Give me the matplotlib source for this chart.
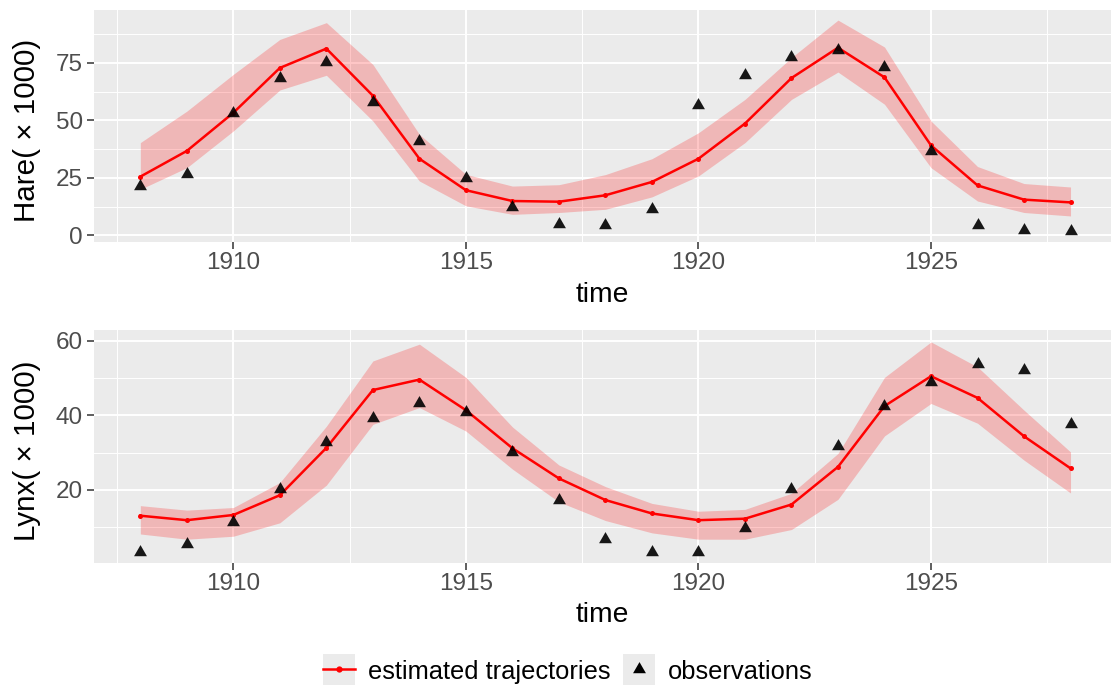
import numpy as np
import matplotlib
matplotlib.use("Agg")
import matplotlib.pyplot as plt
from matplotlib.lines import Line2D
from matplotlib.patches import Rectangle
from matplotlib.legend_handler import HandlerLine2D

plt.rcParams['font.family'] = ['Liberation Sans', 'DejaVu Sans']

# ---------------- data ----------------
years = list(range(1908, 1929))

hare_est = [25.5, 36.7, 53.3, 72.8, 81.2, 60.7, 33.3, 19.6, 14.9, 14.6, 17.4,
            23.2, 33.3, 48.6, 68.4, 81.6, 68.7, 39.1, 21.7, 15.5, 14.3]
hare_hi = [40.3, 54.0, 70.0, 85.2, 92.5, 74.3, 43.9, 26.5, 21.4, 22.0, 26.4,
           33.3, 44.6, 59.1, 77.3, 93.6, 81.9, 49.7, 29.9, 22.5, 21.0]
hare_lo = [20.0, 29.4, 45.4, 63.2, 69.6, 49.7, 23.6, 12.8, 9.1, 9.9, 11.3,
           16.7, 25.8, 40.3, 59.1, 71.0, 57.0, 29.4, 14.9, 9.9, 8.4]
hare_obs = [21.3, 26.5, 53.0, 68.6, 75.5, 58.0, 41.0, 24.8, 12.5, 5.1, 4.4,
            11.3, 56.7, 69.7, 77.7, 80.5, 73.4, 36.7, 4.5, 2.5, 1.9]

lynx_est = [13.1, 11.9, 13.3, 18.6, 31.3, 46.8, 49.6, 41.4, 31.2, 23.1, 17.3,
            13.7, 11.9, 12.3, 16.1, 26.2, 42.5, 50.5, 44.7, 34.4, 25.8]
lynx_hi = [15.8, 14.6, 15.3, 22.0, 37.1, 54.6, 59.1, 50.2, 36.9, 26.7, 20.9,
           16.4, 14.3, 14.8, 19.1, 29.8, 50.2, 59.7, 53.0, 41.4, 30.2]
lynx_lo = [8.2, 6.8, 7.6, 11.2, 21.3, 37.6, 42.1, 35.8, 25.6, 16.8, 11.8,
           8.5, 6.8, 6.8, 9.4, 17.5, 34.5, 43.2, 37.9, 28.0, 19.2]
lynx_obs = [3.5, 5.6, 11.5, 20.3, 32.8, 39.4, 43.4, 40.8, 30.3, 17.2, 6.9,
            3.3, 3.5, 9.9, 20.2, 31.9, 42.4, 48.9, 53.9, 52.2, 37.6]

x_major = [1910, 1915, 1920, 1925]
x_minor = [1907.5, 1912.5, 1917.5, 1922.5, 1927.5]
hare_major = [0, 25, 50, 75]
hare_minor = [12.5, 37.5, 62.5, 87.5]
lynx_major = [20, 40, 60]
lynx_minor = [10, 30, 50]

labels_legend = ['estimated trajectories', 'observations']

# ---------------- figure ----------------
W, H = 1111, 685
fig = plt.figure(figsize=(W / 100, H / 100), dpi=100)

left = 94.3 / W
width = (W - 94.3) / W
ax1 = fig.add_axes([left, (H - 241.7) / H, width, 231.7 / H])
ax2 = fig.add_axes([left, (H - 562.7) / H, width, 232.7 / H])

# equilateral triangle marker centred on its centroid (like R pch 17)
tri = [(0, 0.577), (-0.5, -0.289), (0.5, -0.289), (0, 0.577)]

GRAY_BG = '#EBEBEB'


def style(ax, ymaj, ymin, ylim, ylabel, ylab_y):
    ax.set_facecolor(GRAY_BG)
    for s in ax.spines.values():
        s.set_visible(False)
    ax.set_xlim(1907.01, 1928.87)
    ax.set_ylim(*ylim)
    ax.set_xticks(x_major)
    ax.set_xticks(x_minor, minor=True)
    ax.set_yticks(ymaj)
    ax.set_yticks(ymin, minor=True)
    ax.set_xticklabels([str(v) for v in x_major])
    ax.set_yticklabels([str(v) for v in ymaj])
    ax.grid(which='major', color='white', lw=1.4)
    ax.grid(which='minor', color='white', lw=0.7)
    ax.set_axisbelow(True)
    ax.tick_params(which='major', length=4.8, width=1.1, color='#333333',
                   labelcolor='#4D4D4D', labelsize=17.5)
    ax.tick_params(axis='y', which='major', pad=3.3)
    ax.tick_params(axis='x', which='major', pad=2.5)
    ax.tick_params(which='minor', length=0)
    ax.set_xlabel('time', fontsize=20.3, color='black', va='baseline')
    ax.set_ylabel(ylabel, fontsize=21.3, color='black', va='baseline')
    ax.yaxis.set_label_coords((35.5 - 94.3) / (W - 94.3), ylab_y)


def draw(ax, est, lo, hi, obs):
    ax.fill_between(years, lo, hi, color='red', alpha=0.22, lw=0, zorder=2)
    ax.plot(years, est, color='red', lw=1.8, marker='o', ms=3.6,
            mew=0, zorder=3)
    ax.plot(years, obs, ls='none', marker=tri, ms=10.7, mew=0,
            color='black', alpha=0.9, zorder=4)


draw(ax1, hare_est, hare_lo, hare_hi, hare_obs)
draw(ax2, lynx_est, lynx_lo, lynx_hi, lynx_obs)
style(ax1, hare_major, hare_minor, (-2.8, 98.0), 'Hare( \u00d7 1000)', 0.48)
style(ax2, lynx_major, lynx_minor, (0.5, 62.9), 'Lynx( \u00d7 1000)', 0.483)
ax1.xaxis.set_label_coords(0.5, -(301.7 - 241.7) / 231.7)
ax2.xaxis.set_label_coords(0.5, -(622.3 - 562.7) / 232.7)


# ---------------- legend with grey key boxes ----------------
class BoxedHandler(HandlerLine2D):
    def create_artists(self, legend, orig_handle, xdescent, ydescent,
                       width, height, fontsize, trans):
        arts = super().create_artists(legend, orig_handle, xdescent, ydescent,
                                      width, height, fontsize, trans)
        side = width
        rect = Rectangle((-xdescent, -ydescent + height / 2 - side / 2),
                         side, side, facecolor=GRAY_BG, edgecolor='none',
                         transform=trans)
        return [rect] + list(arts)


h_line = Line2D([], [], color='red', lw=1.8, marker='o', ms=4.5, mew=0)
h_obs = Line2D([], [], ls='none', marker=tri, ms=10.7, mew=0, color='black')
fig.legend([h_line, h_obs], labels_legend, loc='center',
           bbox_to_anchor=(0.511, (H - 671) / H), ncol=2, frameon=False,
           fontsize=18.4, handlelength=1.24, handleheight=1.0,
           handletextpad=0.5, columnspacing=0.5, numpoints=1,
           handler_map={Line2D: BoxedHandler()})

fig.savefig('out.png', dpi=100)
